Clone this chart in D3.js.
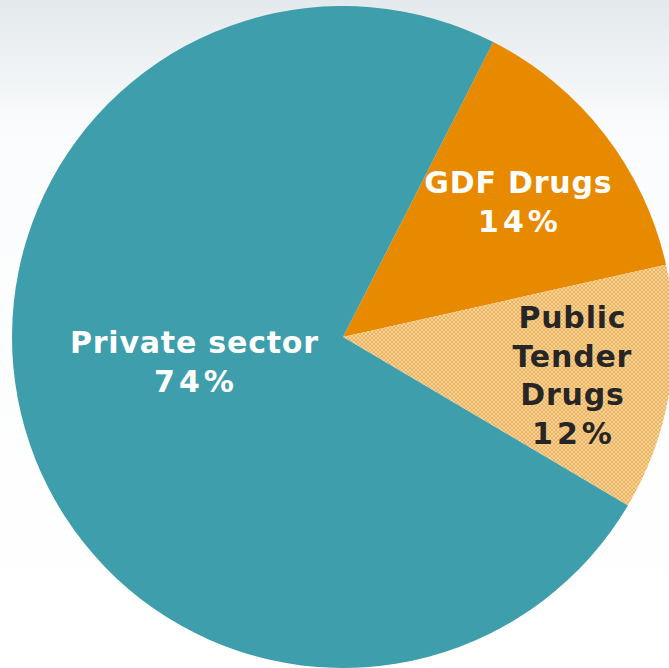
<!DOCTYPE html>
<html><head><meta charset="utf-8">
<script src="https://cdn.jsdelivr.net/npm/d3@7"></script>
<style>html,body{margin:0;padding:0;background:#fff;}svg{display:block;}</style>
</head><body>
<script>
const categories = ["GDF Drugs", "Public Tender Drugs", "Private sector"];
const values = [14, 12, 74];
const labelLines = [["GDF Drugs", "14%"], ["Public", "Tender", "Drugs", "12%"], ["Private sector", "74%"]];
const colors = ["#e88a00", "url(#chk)", "#3e9eab"];
const textColors = ["#ffffff", "#262626", "#ffffff"];

const W = 669, H = 668;
const svg = d3.select("body").append("svg").attr("width", W).attr("height", H);
const defs = svg.append("defs");
const g0 = defs.append("linearGradient").attr("id", "bg").attr("x1", 0).attr("y1", 0).attr("x2", 0).attr("y2", 1);
g0.append("stop").attr("offset", "0").attr("stop-color", "#e3e9ec");
g0.append("stop").attr("offset", "0.2").attr("stop-color", "#fbfcfd");
g0.append("stop").attr("offset", "1").attr("stop-color", "#ffffff");
svg.append("rect").attr("width", W).attr("height", H).attr("fill", "url(#bg)");

const pat = defs.append("pattern").attr("id", "chk").attr("patternUnits", "userSpaceOnUse").attr("width", 4).attr("height", 4);
pat.append("rect").attr("width", 4).attr("height", 4).attr("fill", "#f9d49a");
pat.append("rect").attr("x", 0).attr("y", 0).attr("width", 2).attr("height", 2).attr("fill", "#efb25c");
pat.append("rect").attr("x", 2).attr("y", 2).attr("width", 2).attr("height", 2).attr("fill", "#efb25c");

const cx = 343, cy = 337, R = 331;
const startA = 27 * Math.PI / 180;
const pie = d3.pie().sort(null).value(d => d).startAngle(startA).endAngle(startA + 2 * Math.PI);
const arcs = pie(values);
const arc = d3.arc().innerRadius(0).outerRadius(R);
const g = svg.append("g").attr("transform", `translate(${cx},${cy})`);
g.selectAll("path").data(arcs).join("path").attr("d", arc).attr("fill", (d, i) => colors[i]);

const labelPos = [[175, -144], [229, -9], [-149, 16]];
const lh = 38.5;
arcs.forEach((a, i) => {
  const lines = labelLines[i];
  const t = g.append("text")
    .attr("text-anchor", "middle")
    .attr("font-family", "DejaVu Sans, Verdana, sans-serif")
    .attr("font-weight", "bold")
    .attr("font-size", 30)
    .attr("fill", textColors[i]);
  lines.forEach((s, k) => {
    const isPct = k === lines.length - 1;
    t.append("tspan")
      .attr("x", labelPos[i][0] + (isPct ? 2 : 0.4))
      .attr("y", labelPos[i][1] + k * lh)
      .attr("letter-spacing", isPct ? 4 : 0.8)
      .text(s);
  });
});
</script>
</body></html>
